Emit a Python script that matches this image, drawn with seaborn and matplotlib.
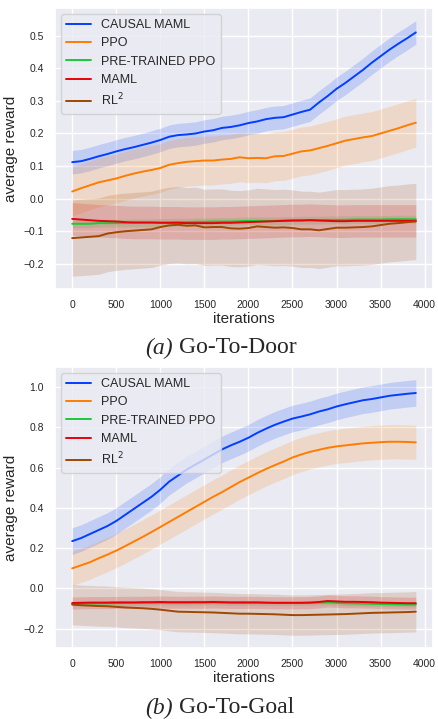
import numpy as np
import pandas as pd
import matplotlib.pyplot as plt
import seaborn as sns

iterations = np.arange(0, 4000, 100)
methods = ['CAUSAL MAML', 'PPO', 'PRE-TRAINED PPO', 'MAML', r'RL$^2$']

# (a) Go-To-Door
door_causal = [0.112, 0.115, 0.122, 0.130, 0.137, 0.145, 0.152, 0.158, 0.165, 0.172,
               0.180, 0.190, 0.195, 0.197, 0.200, 0.206, 0.210, 0.217, 0.220, 0.225,
               0.232, 0.237, 0.244, 0.248, 0.250, 0.258, 0.266, 0.273, 0.295, 0.315,
               0.337, 0.355, 0.375, 0.395, 0.417, 0.437, 0.457, 0.475, 0.492, 0.510]
door_ppo = [0.022, 0.032, 0.041, 0.050, 0.056, 0.062, 0.070, 0.077, 0.083, 0.088,
            0.094, 0.104, 0.109, 0.113, 0.115, 0.117, 0.117, 0.120, 0.122, 0.127,
            0.124, 0.125, 0.124, 0.130, 0.131, 0.138, 0.145, 0.148, 0.155, 0.162,
            0.170, 0.178, 0.183, 0.188, 0.192, 0.200, 0.208, 0.216, 0.225, 0.233]
door_pretrained = [-0.077, -0.077, -0.077, -0.075, -0.075, -0.075, -0.075, -0.074, -0.074, -0.074,
                   -0.073, -0.073, -0.072, -0.072, -0.071, -0.071, -0.070, -0.070, -0.070, -0.069,
                   -0.068, -0.068, -0.068, -0.068, -0.067, -0.067, -0.066, -0.066, -0.066, -0.065,
                   -0.065, -0.065, -0.064, -0.064, -0.064, -0.064, -0.063, -0.063, -0.063, -0.063]
door_maml = [-0.062, -0.064, -0.066, -0.068, -0.069, -0.070, -0.072, -0.073, -0.073, -0.073,
             -0.074, -0.074, -0.074, -0.075, -0.075, -0.075, -0.075, -0.074, -0.074, -0.073,
             -0.072, -0.071, -0.070, -0.069, -0.068, -0.067, -0.067, -0.066, -0.067, -0.068,
             -0.069, -0.069, -0.068, -0.068, -0.068, -0.068, -0.068, -0.068, -0.068, -0.068]
door_rl2 = [-0.121, -0.119, -0.117, -0.115, -0.107, -0.103, -0.100, -0.098, -0.096, -0.094,
            -0.087, -0.082, -0.080, -0.083, -0.082, -0.088, -0.087, -0.087, -0.091, -0.092,
            -0.090, -0.085, -0.087, -0.089, -0.088, -0.090, -0.094, -0.094, -0.097, -0.093,
            -0.089, -0.089, -0.088, -0.087, -0.085, -0.081, -0.077, -0.075, -0.072, -0.070]
door_spread = [0.036, 0.075, 0.012, 0.05, 0.117]

# (b) Go-To-Goal
goal_causal = [0.235, 0.250, 0.270, 0.290, 0.310, 0.335, 0.365, 0.395, 0.425, 0.455,
               0.490, 0.530, 0.560, 0.590, 0.615, 0.640, 0.665, 0.690, 0.710, 0.728,
               0.748, 0.772, 0.793, 0.812, 0.828, 0.843, 0.853, 0.864, 0.878, 0.889,
               0.903, 0.914, 0.924, 0.934, 0.940, 0.948, 0.956, 0.961, 0.966, 0.970]
goal_ppo = [0.100, 0.115, 0.130, 0.150, 0.168, 0.188, 0.210, 0.233, 0.256, 0.280,
            0.305, 0.330, 0.355, 0.380, 0.405, 0.430, 0.455, 0.478, 0.503, 0.528,
            0.550, 0.572, 0.593, 0.612, 0.630, 0.650, 0.665, 0.678, 0.688, 0.698,
            0.705, 0.710, 0.715, 0.720, 0.723, 0.726, 0.728, 0.728, 0.727, 0.725]
goal_pretrained = [-0.075, -0.075, -0.074, -0.074, -0.073, -0.073, -0.072, -0.072, -0.072, -0.071,
                   -0.071, -0.071, -0.071, -0.071, -0.070, -0.070, -0.069, -0.070, -0.071, -0.071,
                   -0.071, -0.071, -0.072, -0.072, -0.072, -0.072, -0.072, -0.071, -0.070, -0.069,
                   -0.071, -0.073, -0.074, -0.075, -0.076, -0.077, -0.078, -0.079, -0.080, -0.080]
goal_maml = [-0.072, -0.071, -0.070, -0.070, -0.070, -0.069, -0.069, -0.069, -0.068, -0.068,
             -0.067, -0.068, -0.068, -0.068, -0.068, -0.068, -0.067, -0.068, -0.069, -0.069,
             -0.069, -0.069, -0.070, -0.071, -0.071, -0.071, -0.071, -0.070, -0.067, -0.062,
             -0.064, -0.066, -0.066, -0.067, -0.068, -0.070, -0.071, -0.072, -0.073, -0.073]
goal_rl2 = [-0.080, -0.083, -0.085, -0.087, -0.088, -0.091, -0.094, -0.096, -0.098, -0.101,
            -0.105, -0.110, -0.115, -0.116, -0.117, -0.118, -0.119, -0.121, -0.123, -0.125,
            -0.125, -0.126, -0.127, -0.128, -0.130, -0.132, -0.132, -0.131, -0.130, -0.129,
            -0.128, -0.127, -0.125, -0.123, -0.121, -0.120, -0.119, -0.118, -0.117, -0.115]
goal_spread = [0.066, 0.085, 0.012, 0.03, 0.1]

sns.set_theme(style='darkgrid')
plt.rcParams['font.family'] = ['Liberation Sans', 'DejaVu Sans']
colors = sns.color_palette('bright')
colors = [colors[0], colors[1], colors[2], colors[3], colors[5]]

fig = plt.figure(figsize=(4.38, 7.19), dpi=100)
ax_top = fig.add_axes([0.1256, 0.598, 0.863, 0.391])
ax_bot = fig.add_axes([0.1256, 0.0987, 0.863, 0.391])

panels = [
    (ax_top, [door_causal, door_ppo, door_pretrained, door_maml, door_rl2], door_spread),
    (ax_bot, [goal_causal, goal_ppo, goal_pretrained, goal_maml, goal_rl2], goal_spread),
]

for ax, series, spread in panels:
    for name, vals, sd, c in zip(methods, series, spread, colors):
        vals = np.array(vals)
        sns.lineplot(x=iterations, y=vals, color=c, label=name, linewidth=1.4, ax=ax)
        ax.fill_between(iterations, vals - sd, vals + sd, color=c, alpha=0.17, linewidth=0)
    ax.set_xlabel('iterations', fontsize=11, labelpad=1)
    ax.set_ylabel('average reward', fontsize=11, labelpad=4)
    ax.tick_params(labelsize=7.5, pad=2)
    ax.set_xticks(np.arange(0, 4001, 500))
    ax.legend(loc='upper left', fontsize=9)

serif = ['Liberation Serif', 'DejaVu Serif']
fig.text(0.395, 0.516, '(a)', ha='right', va='center', fontsize=17, style='italic', family=serif)
fig.text(0.408, 0.516, 'Go-To-Door', ha='left', va='center', fontsize=17, family=serif)
fig.text(0.395, 0.0153, '(b)', ha='right', va='center', fontsize=17, style='italic', family=serif)
fig.text(0.408, 0.0153, 'Go-To-Goal', ha='left', va='center', fontsize=17, family=serif)

fig.savefig('out.png', dpi=100)
